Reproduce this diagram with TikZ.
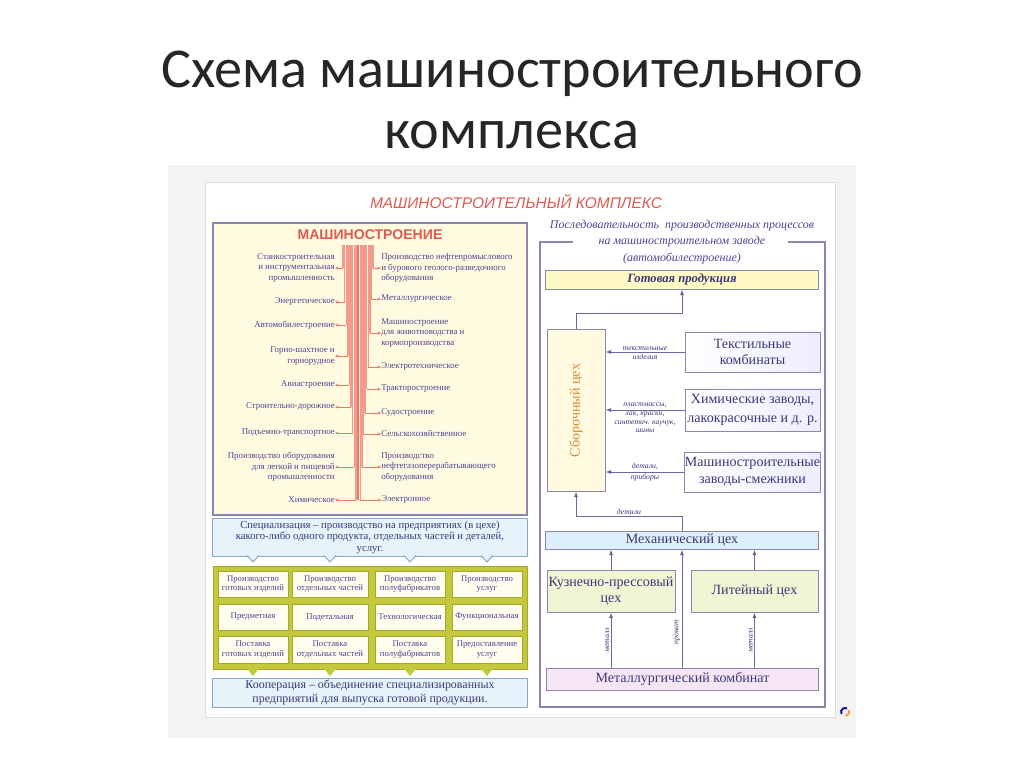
\documentclass[tikz,border=0pt]{standalone}
\usepackage{fontspec}
\setmainfont{Liberation Serif}
\setsansfont{Liberation Sans}
\newfontfamily\titlefont{Carlito}
\usepackage{xcolor}
\usetikzlibrary{arrows.meta}

\definecolor{titlecol}{HTML}{262626}
\definecolor{itemcol}{HTML}{4E4494}
\definecolor{trunkred}{HTML}{EC7A6A}
\definecolor{trunkpink}{HTML}{F29A8C}
\definecolor{headred}{HTML}{DE5A52}
\definecolor{boxline}{HTML}{8C86AE}
\definecolor{boxtext}{HTML}{3A3878}
\definecolor{arrline}{HTML}{6E66A0}
\definecolor{cream}{HTML}{FFFAE0}
\definecolor{specfill}{HTML}{E6F3FA}
\definecolor{specline}{HTML}{8EA6C6}
\definecolor{olive}{HTML}{C4C93C}
\definecolor{cellline}{HTML}{A3A92A}
\definecolor{cellfill}{HTML}{FFFDEE}
\definecolor{readyfill}{HTML}{FFF9C4}
\definecolor{mechfill}{HTML}{DCEFFA}
\definecolor{forgefill}{HTML}{F1F5D4}
\definecolor{metalfill}{HTML}{F6E6F4}
\definecolor{asmtext}{HTML}{D88A3C}
\definecolor{posterbg}{HTML}{F3F4F2}
\definecolor{posterline}{HTML}{DADDE2}

\begin{document}
\begin{tikzpicture}[x=0.025cm,y=-0.025cm,
    trunk/.style={draw=trunkpink,line width=1pt},
    branch/.style={draw=trunkred,line width=0.6pt,-{Stealth[length=2.4pt,width=2.2pt]}},
    item/.style={font=\fontsize{6.3}{7.4}\selectfont,text=itemcol,inner sep=0pt},
    cell/.style={draw=cellline,line width=0.4pt,fill=cellfill,font=\fontsize{6.2}{6.8}\selectfont,text=itemcol,align=center,inner sep=0pt,minimum height=0.65cm},
    lbox/.style={line width=0.7pt,minimum width=7.85cm,align=center,text=boxtext,inner sep=0pt},
    rbox/.style={draw=boxline,line width=0.7pt,font=\fontsize{10}{12}\selectfont,text=boxtext,align=center,inner sep=0pt},
    arr/.style={draw=arrline,line width=0.7pt,-{Latex[length=4pt,width=3pt]}},
    lab/.style={font=\fontsize{5.5}{6.2}\selectfont\itshape,text=boxtext,inner sep=1pt,align=center}]

    \useasboundingbox (0,0) rectangle (1024,767);
    \fill[white] (0,0) rectangle (1024,767);

    \node[font=\titlefont\fontsize{40}{43}\selectfont,text=titlecol,align=center] (title) at (512,100) {Схема машиностроительного\\комплекса};

    % poster
    \fill[posterbg] (168,165) rectangle (856,738);
    \draw[posterline,fill=white] (205,182) rectangle (835,717);
    \node[font=\sffamily\itshape\fontsize{11}{13}\selectfont,text=headred] (head) at (516,202) {МАШИНОСТРОИТЕЛЬНЫЙ КОМПЛЕКС};

    % left part
    \node[draw=boxline,line width=0.8pt,fill=cream,minimum width=7.85cm,minimum height=7.3cm] (mbox) at (370,369) {};
    \node[font=\sffamily\bfseries\fontsize{10}{12}\selectfont,text=headred] (mtitle) at (370,235) {МАШИНОСТРОЕНИЕ};
    \draw[trunk,draw=trunkred] (358,245) -- (358,500);
    \foreach \y/\t [count=\i] in {268/{Станкостроительная\\и инструментальная\\промышленность},302/Энергетическое,325/Автомобилестроение,356/{Горно-шахтное и\\горнорудное},385/Авиастроение,407/Строительно-дорожное,433/Подъемно-транспортное,467/{Производство оборудования\\для легкой и пищевой\\промышленности},500/Химическое}{
        \node[item,align=right,anchor=east] (l\i) at (335,\y) {\t};
        \coordinate (lt\i) at ({341.4+1.6*\i},\y);
        \draw[trunk] ({341.4+1.6*\i},245) -- (lt\i);
        \draw[branch] (lt\i) -- (l\i.east);
    }
    \foreach \y/\t [count=\i] in {268/{Производство нефтепромыслового\\и бурового геолого-разведочного\\оборудования},299/Металлургическое,333/{Машиностроение\\для животноводства и\\кормопроизводства},367/Электротехническое,389/Тракторостроение,413/Судостроение,434/Сельскохозяйственное,467/{Производство\\нефтегазоперерабатывающего\\оборудования},500/Электронное}{
        \node[item,align=left,anchor=west] (r\i) at (381,\y) {\t};
        \coordinate (rt\i) at ({374.6-1.6*\i},\y);
        \draw[trunk] ({374.6-1.6*\i},245) -- (rt\i);
        \draw[branch] (rt\i) -- (r\i.west);
    }

    \node[lbox,draw=specline,fill=specfill,minimum height=0.95cm,font=\fontsize{7.6}{8.2}\selectfont] (spec) at (370,537) {Специализация – производство на предприятиях (в цехе)\\какого-либо одного продукта, отдельных частей и деталей,\\услуг.};
    \foreach \x in {253,330,410,487}
        \filldraw[draw=specline,fill=specfill,line width=0.7pt] (\x-6,555.5) -- (\x,562) -- (\x+6,555.5);

    % grid
    \filldraw[draw=cellline,fill=olive,line width=0.5pt] (213,566) rectangle (527,669);
    \foreach \x/\w/\a/\b/\c [count=\i] in {253/70/{Производство\\готовых изделий}/Предметная/{Поставка\\готовых изделий},330/76/{Производство\\отдельных частей}/Подетальная/{Поставка\\отдельных частей},410/70/{Производство\\полуфабрикатов}/Технологическая/{Поставка\\полуфабрикатов},487/70/{Производство\\услуг}/Функциональная/{Предоставление\\услуг}}{
        \node[cell,minimum width=\w*0.025cm] (ga\i) at (\x,584) {\a};
        \node[cell,minimum width=\w*0.025cm] (gb\i) at (\x,617) {\b};
        \node[cell,minimum width=\w*0.025cm,minimum height=0.675cm] (gc\i) at (\x,649.5) {\c};
        \fill[olive] (\x-6,668.5) -- (\x,676) -- (\x+6,668.5) -- cycle;
    }

    \node[lbox,draw=specline,fill=specfill,minimum height=0.725cm,font=\fontsize{8.5}{10.5}\selectfont] (coop) at (370,692.5) {Кооперация – объединение специализированных\\предприятий для выпуска готовой продукции.};

    % right part
    \node[lab,font=\fontsize{8.5}{11.6}\selectfont\itshape,text=itemcol] (seq) at (682,242) {Последовательность \ производственных процессов\\на машиностроительном заводе\\(автомобилестроение)};
    \draw[boxline,line width=0.8pt] (573,242) -- (540,242) -- (540,707) -- (825,707) -- (825,242) -- (788,242);

    \node[rbox,fill=readyfill,minimum width=6.8cm,minimum height=0.475cm,font=\bfseries\itshape\fontsize{9}{11}\selectfont] (ready) at (682,279.5) {Готовая продукция};
    \node[rbox,fill=cream,rotate=90,minimum width=4.025cm,minimum height=1.45cm,text=asmtext] (assembly) at (576,410.5) {Сборочный цех};
    \node[rbox,left color=white,right color=blue!7,minimum width=3.375cm,minimum height=1cm] (textile) at (752.5,352) {Текстильные\\комбинаты};
    \node[rbox,left color=white,right color=blue!7,minimum width=3.375cm,minimum height=1.05cm,font=\fontsize{10}{13}\selectfont] (chem) at (752.5,410) {Химические заводы,\\лакокрасочные и д. р.};
    \node[rbox,left color=white,right color=blue!7,minimum width=3.375cm,minimum height=1cm] (machfac) at (752.5,472) {Машиностроительные\\заводы-смежники};
    \node[rbox,fill=mechfill,minimum width=6.8cm,minimum height=0.45cm] (mech) at (682,540) {Механический цех};
    \node[rbox,fill=forgefill,minimum width=3.2cm,minimum height=1.05cm] (forge) at (611,591) {Кузнечно-прессовый\\цех};
    \node[rbox,fill=forgefill,minimum width=3.175cm,minimum height=1.05cm] (foundry) at (754.5,591) {Литейный цех};
    \node[rbox,fill=metalfill,minimum width=6.775cm,minimum height=0.55cm] (metal) at (682.5,679) {Металлургический комбинат};

    \coordinate (rj) at (576,313);
    \coordinate (dj) at (576,516);
    \draw[arr] (assembly.east) |- (rj) -| (ready.south);
    \draw[arr] (textile.west) -- (textile.west -| assembly.south)
        node[lab,midway,above] {текстильные} node[lab,midway,below] {изделия};
    \draw[arr] (chem.west) -- (chem.west -| assembly.south)
        node[lab,midway,above] {пластмассы,} node[lab,midway,below] {лак, краски,\\синтетич. каучук,\\шины};
    \draw[arr] (machfac.west) -- (machfac.west -| assembly.south)
        node[lab,midway,above] {детали,} node[lab,midway,below] {приборы};
    \draw[arr] (mech.north) |- (dj) node[lab,pos=0.75,above] {детали} -- (assembly.west);
    \draw[arr] (forge.north) -- (forge.north |- mech.south);
    \draw[arr] (foundry.north) -- (foundry.north |- mech.south);
    \draw[arr] (metal.north -| forge.north) -- (forge.south) node[lab,midway,rotate=90,anchor=south] {металл};
    \draw[arr] (metal.north -| mech.south) -- (mech.south) node[lab,pos=0.3,rotate=90,anchor=south] {прокат};
    \draw[arr] (metal.north -| foundry.north) -- (foundry.south) node[lab,midway,rotate=90,anchor=south] {металл};

    % logo
    \draw[blue!60!black,line width=1.3pt] (845,712) ++(150:4) arc (150:300:4);
    \draw[orange!80,line width=1.3pt] (845,712) ++(330:4) arc (330:440:4);
\end{tikzpicture}
\end{document}
